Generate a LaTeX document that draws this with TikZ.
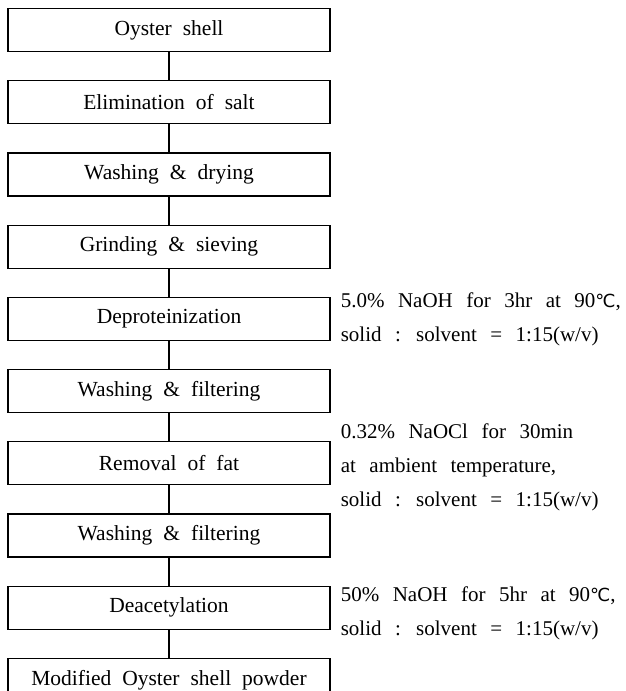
\documentclass[tikz,border=0pt]{standalone}
\usepackage{fontspec}
\setmainfont{Liberation Serif}
\newfontfamily\symfont{DejaVu Sans}
\usetikzlibrary{positioning}

\newcommand{\degC}{{\symfont\fontsize{18}{18}\selectfont ℃}}
\newcommand{\boxfont}{\fontsize{21.5}{24}\selectfont\spaceskip=11pt plus 2pt\relax}
\newcommand{\condfont}{\fontsize{21}{34}\selectfont\spaceskip=13.5pt plus 2pt\relax}

\tikzset{
  stage/.style={draw,line width=1.2pt,minimum width=322pt,minimum height=43pt,
    inner sep=0pt,font=\boxfont},
  cond/.style={anchor=west,align=left,inner sep=0pt,font=\condfont},
  link/.style={line width=1.2pt}
}

\begin{document}
\begin{tikzpicture}[node distance=28pt]

  \useasboundingbox (0,0) rectangle (626pt,-691pt);

  \node[stage,anchor=north] (s1) at (169pt,-8pt) {Oyster shell};
  \node[stage] (s2) [below=of s1] {Elimination of salt};
  \node[stage] (s3) [below=of s2] {Washing \& drying};
  \node[stage] (s4) [below=of s3] {Grinding \& sieving};
  \node[stage] (s5) [below=of s4] {Deproteinization};
  \node[stage] (s6) [below=of s5] {Washing \& filtering};
  \node[stage] (s7) [below=of s6] {Removal of fat};
  \node[stage] (s8) [below=of s7] {Washing \& filtering};
  \node[stage] (s9) [below=of s8] {Deacetylation};
  \node[stage] (s10) [below=of s9] {Modified Oyster shell powder};

  % side conditions
  \node[cond] (c5) [right=10pt of s5.east]
    {5.0\% NaOH for 3hr at 90\degC,\\solid : solvent = 1:15(w/v)};
  \node[cond] (c7) [right=10pt of s7.east,yshift=-4pt]
    {0.32\% NaOCl for 30min\\at ambient temperature,\\solid : solvent = 1:15(w/v)};
  \node[cond] (c9) [right=10pt of s9.east,yshift=-6pt]
    {50\% NaOH for 5hr at 90\degC,\\solid : solvent = 1:15(w/v)};

  \foreach \a/\b in {s1/s2,s2/s3,s3/s4,s4/s5,s5/s6,s6/s7,s7/s8,s8/s9,s9/s10}
    \draw[link] (\a.south) -- (\b.north);

\end{tikzpicture}
\end{document}
